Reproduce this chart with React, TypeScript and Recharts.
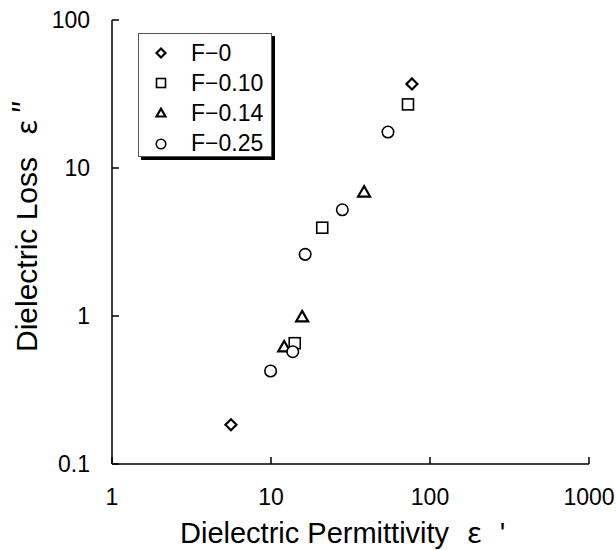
import React from "react";
import { ScatterChart, Scatter, XAxis, YAxis, Legend } from "recharts";

const seriesNames = ["F−0", "F−0.10", "F−0.14", "F−0.25"];
const f0 = [
  { x: 5.6, y: 0.184 },
  { x: 77, y: 37 },
];
const f010 = [
  { x: 72.7, y: 26.9 },
  { x: 21, y: 3.95 },
  { x: 14.1, y: 0.655 },
];
const f014 = [
  { x: 38.5, y: 6.9 },
  { x: 15.7, y: 0.99 },
  { x: 12.1, y: 0.62 },
];
const f025 = [
  { x: 54.4, y: 17.5 },
  { x: 28.1, y: 5.22 },
  { x: 16.4, y: 2.61 },
  { x: 13.7, y: 0.574 },
  { x: 9.94, y: 0.425 },
];
const xTicks = [1, 10, 100, 1000];
const yTicks = [0.1, 1, 10, 100];
const xTickLabels = ["1", "10", "100", "1000"];
const yTickLabels = ["0.1", "1", "10", "100"];

const FONT = "'Liberation Sans', Arial, sans-serif";
const CJK = "'Noto Sans CJK JP', 'Liberation Sans', sans-serif";

type ShapeKind = "diamond" | "square" | "triangle" | "circle";
const kinds: ShapeKind[] = ["diamond", "square", "triangle", "circle"];

function drawSymbol(kind: ShapeKind, cx: number, cy: number, s: number) {
  const common = { fill: "#fff", stroke: "#000" };
  if (kind === "diamond") {
    const r = s / 2;
    return (
      <path
        d={`M${cx},${cy - r}L${cx + r},${cy}L${cx},${cy + r}L${cx - r},${cy}Z`}
        {...common}
        strokeWidth={2.2}
      />
    );
  }
  if (kind === "square") {
    return <rect x={cx - s / 2} y={cy - s / 2} width={s} height={s} {...common} strokeWidth={1.6} />;
  }
  if (kind === "triangle") {
    const h = s * 0.87;
    return (
      <path
        d={`M${cx},${cy - h * 0.55}L${cx + s / 2},${cy + h * 0.45}L${cx - s / 2},${cy + h * 0.45}Z`}
        {...common}
        strokeWidth={2.2}
      />
    );
  }
  return <circle cx={cx} cy={cy} r={s / 2} {...common} strokeWidth={1.6} />;
}

const makeShape = (kind: ShapeKind) => (props: any) => {
  const { cx, cy } = props;
  if (cx == null || cy == null) return <g />;
  return drawSymbol(kind, cx, cy, kind === "circle" ? 11.5 : kind === "triangle" ? 12 : 11);
};

const XTick = (props: any) => {
  const { x, y, payload, index } = props;
  return (
    <g>
      <line x1={x} y1={y} x2={x} y2={y - 7} stroke="#000" strokeWidth={1.5} />
      <text x={x} y={y + 41} textAnchor="middle" fontFamily={FONT} fontSize={23} fill="#000">
        {xTickLabels[index] ?? String(payload.value)}
      </text>
    </g>
  );
};

const YTick = (props: any) => {
  const { x, y, payload, index } = props;
  return (
    <g>
      <line x1={x} y1={y} x2={x + 7} y2={y} stroke="#000" strokeWidth={1.5} />
      <text x={x - 22} y={y + 8} textAnchor="end" fontFamily={FONT} fontSize={23} fill="#000">
        {yTickLabels[index] ?? String(payload.value)}
      </text>
    </g>
  );
};

const LegendBox = (props: any) => {
  const payload = props.payload || [];
  return (
    <div
      style={{
        width: 134,
        height: 124,
        border: "1px solid #555",
        boxShadow: "3px 3px 0 #000",
        background: "#fff",
        boxSizing: "border-box",
        position: "relative",
      }}
    >
      {payload.map((p: any, i: number) => (
        <div
          key={i}
          style={{
            position: "absolute",
            left: 0,
            top: 4 + i * 30.2,
            height: 30,
            display: "flex",
            alignItems: "center",
          }}
        >
          <svg width={50} height={30} style={{ display: "block" }}>
            {drawSymbol(kinds[i], 22, 15, kinds[i] === "circle" ? 9.5 : 9)}
          </svg>
          <span style={{ fontFamily: FONT, fontSize: 23, color: "#000", marginLeft: 2 }}>{p.value}</span>
        </div>
      ))}
    </div>
  );
};

const YTitle = () => {
  const cx = 37;
  const cy = 352;
  return (
    <text
      x={cx}
      y={cy}
      transform={`rotate(-90, ${cx}, ${cy})`}
      textAnchor="start"
      fontFamily={FONT}
      fontSize={30}
      fill="#000"
    >
      Dielectric Loss
      <tspan fontFamily={CJK} dx={22}>ε</tspan>
      <tspan fontFamily={CJK} dx={6} dy={-2}>″</tspan>
    </text>
  );
};

const XTitle = () => (
  <text x={180} y={543} textAnchor="start" fontFamily={FONT} fontSize={29} fill="#000">
    Dielectric Permittivity
    <tspan fontFamily={CJK} dx={18}>ε</tspan>
    <tspan dx={18}>'</tspan>
  </text>
);

export default function App() {
  return (
    <div style={{ position: "fixed", left: 0, top: 0, width: 616, height: 550, background: "#fff" }}>
      <ScatterChart width={616} height={550} margin={{ top: 20, right: 27, left: 0, bottom: 0 }}>
        <XAxis
          dataKey="x"
          type="number"
          scale="log"
          domain={[1, 1000]}
          ticks={xTicks}
          allowDataOverflow
          height={86}
          tickSize={0}
          tickMargin={0}
          tickLine={false}
          tick={<XTick />}
          axisLine={{ stroke: "#000", strokeWidth: 1.5 }}
          interval={0}
          label={<XTitle />}
        />
        <XAxis
          xAxisId="top"
          orientation="top"
          type="number"
          scale="log"
          domain={[1, 1000]}
          height={0}
          tick={false}
          tickLine={false}
          axisLine={{ stroke: "#000", strokeWidth: 1.5 }}
        />
        <YAxis
          dataKey="y"
          type="number"
          scale="log"
          domain={[0.1, 100]}
          ticks={yTicks}
          allowDataOverflow
          width={112}
          tickSize={0}
          tickMargin={0}
          tickLine={false}
          tick={<YTick />}
          axisLine={{ stroke: "#000", strokeWidth: 1.5 }}
          interval={0}
          label={<YTitle />}
        />
        <YAxis
          yAxisId="right"
          orientation="right"
          type="number"
          scale="log"
          domain={[0.1, 100]}
          width={0}
          tick={false}
          tickLine={false}
          axisLine={{ stroke: "#000", strokeWidth: 1.5 }}
        />
        <Legend
          layout="horizontal"
          verticalAlign="middle"
          align="center"
          content={<LegendBox />}
          wrapperStyle={{ position: "absolute", left: 138, top: 33, width: 138, height: 128 }}
        />
        <Scatter name={seriesNames[0]} data={f0} shape={makeShape("diamond")} isAnimationActive={false} />
        <Scatter name={seriesNames[1]} data={f010} shape={makeShape("square")} isAnimationActive={false} />
        <Scatter name={seriesNames[2]} data={f014} shape={makeShape("triangle")} isAnimationActive={false} />
        <Scatter name={seriesNames[3]} data={f025} shape={makeShape("circle")} isAnimationActive={false} />
      </ScatterChart>
    </div>
  );
}
